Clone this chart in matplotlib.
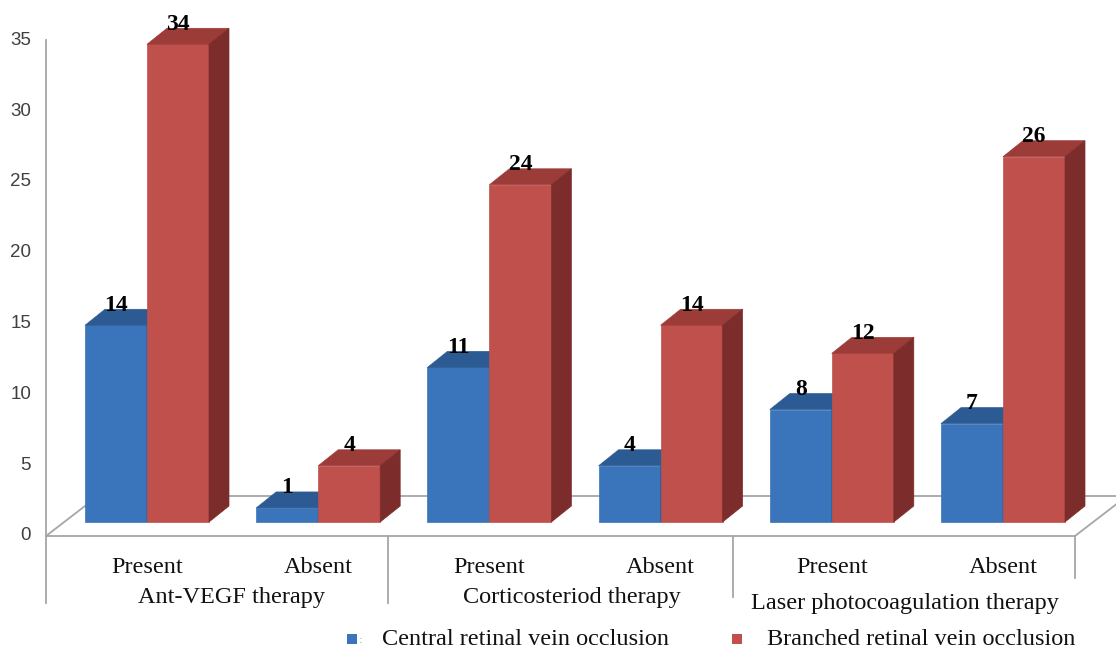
import numpy as np
import matplotlib.pyplot as plt
from matplotlib.patches import Polygon

CATEGORIES = ["Present", "Absent", "Present", "Absent", "Present", "Absent"]
GROUPS = ["Ant-VEGF therapy", "Corticosteriod therapy", "Laser photocoagulation therapy"]
SERIES = ["Central retinal vein occlusion", "Branched retinal vein occlusion"]
CRVO = [14, 1, 11, 4, 8, 7]
BRVO = [34, 4, 24, 14, 12, 26]
YTICKS = [0, 5, 10, 15, 20, 25, 30, 35]

BLUE, BLUE_TOP = "#3A74BB", "#2C5B93"
RED, RED_TOP, RED_SIDE = "#BF504C", "#9C3C39", "#7C2D2B"
GRID = "#A6A6A6"
SERIF = "Liberation Serif"

# layout in pixels of the 1116x648 canvas
W, H = 1116, 648
X0, XSTEP = 147, 171.2   # x of first category centre, spacing
Y0, YSTEP = 522, 14.05   # y of value 0 on the bar fronts, pixels per unit


def px(x):
    return (x - X0) / XSTEP


def py(y):
    return (Y0 - y) / YSTEP


BAR_W = 62 / XSTEP
DX = 20 / XSTEP
DY = 16 / YSTEP

fig = plt.figure(figsize=(W / 100, H / 100), dpi=100)
ax = fig.add_axes([0, 0, 1, 1])
ax.set_xlim(px(0), px(W))
ax.set_ylim(py(H), py(0))
ax.axis("off")

# floor, value axis and category separators
fl, fr, br, bl = (46, 536), (1075, 536), (1127, 496), (98, 496)
for a, b in [(fl, fr), (fr, br), (fl, bl), (bl, br), ((46, 40), fl)]:
    ax.plot([px(a[0]), px(b[0])], [py(a[1]), py(b[1])], color=GRID, lw=1.3, zorder=1)
for x, y_end in [(46, 603), (388, 603), (733, 597), (1075, 578)]:
    ax.plot([px(x), px(x)], [py(536), py(y_end)], color=GRID, lw=1.3, zorder=1)

# value axis labels sit on the front edge of the floor
for v in YTICKS:
    ax.text(px(31), py(536 - v * 14.16), str(v), ha="right", va="center",
            fontsize=13.5, color="#404040", family="Liberation Sans")

x = np.arange(len(CATEGORIES))


def box_faces(left, h, top, side, z):
    r = left + BAR_W
    ax.add_patch(Polygon([(left, h), (r, h), (r + DX, h + DY), (left + DX, h + DY)],
                         closed=True, fc=top, ec=top, lw=0.5, zorder=z))
    ax.add_patch(Polygon([(r, 0), (r + DX, DY), (r + DX, h + DY), (r, h)],
                         closed=True, fc=side, ec=side, lw=0.5, zorder=z))


ax.bar(x - BAR_W, CRVO, width=BAR_W, align="edge", color=BLUE, ec=BLUE, lw=0.5, zorder=3)
ax.bar(x, BRVO, width=BAR_W, align="edge", color=RED, ec=RED, lw=0.5, zorder=4)
for i in x:
    box_faces(i - BAR_W, CRVO[i], BLUE_TOP, BLUE_TOP, 3)
    box_faces(i, BRVO[i], RED_TOP, RED_SIDE, 4)
    ax.text(i - BAR_W / 2, CRVO[i] + DY - 0.1, str(CRVO[i]), ha="center", va="baseline",
            fontsize=17, fontweight="bold", family=SERIF, zorder=5)
    ax.text(i + BAR_W / 2, BRVO[i] + DY - 0.1, str(BRVO[i]), ha="center", va="baseline",
            fontsize=17, fontweight="bold", family=SERIF, zorder=5)

# category and group labels
for i, name in enumerate(CATEGORIES):
    ax.text(i, py(573), name, ha="center", va="baseline", fontsize=17.5,
            family=SERIF, color="#111111")
for (cx, base), name in zip([(231, 603), (572, 603), (905, 609)], GROUPS):
    ax.text(px(cx), py(base), name, ha="center", va="baseline", fontsize=17.5,
            family=SERIF, color="#111111")

# legend
for (sx, tx), name, col in zip([(352, 382), (737, 767)], SERIES, [BLUE, RED]):
    ax.scatter([px(sx)], [py(639)], marker="s", s=55, color=col, lw=0)
    ax.text(px(tx), py(645), name, ha="left", va="baseline", fontsize=17.5,
            family=SERIF, color="#111111")
ax.text(px(361), py(643), ":", ha="center", va="baseline", fontsize=8, color="#9A9A9A")

fig.savefig("out.png", dpi=100)
